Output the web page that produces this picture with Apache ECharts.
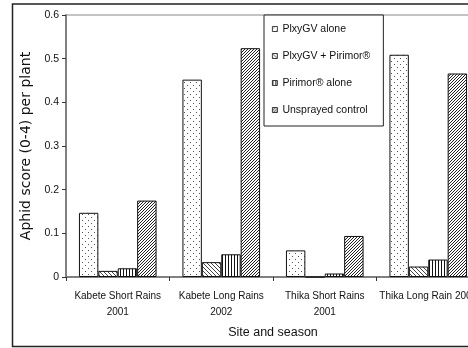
<!DOCTYPE html>
<html>
<head>
<meta charset="utf-8">
<script src="https://cdn.jsdelivr.net/npm/echarts@6/dist/echarts.min.js"></script>
<style>
html,body{margin:0;padding:0;background:#fff;}
#chart{width:468px;height:348px;}
</style>
</head>
<body>
<div id="chart"></div>
<script>
// ---- data ----
const categories = ['Kabete Short Rains\n2001', 'Kabete Long Rains\n2002', 'Thika Short Rains\n2001', 'Thika Long Rain 2002'];
const seriesNames = ['PlxyGV alone', 'PlxyGV + Pirimor®', 'Pirimor® alone', 'Unsprayed control'];
const plxygvAlone = [0.147, 0.452, 0.061, 0.509];
const plxygvPirimor = [0.014, 0.034, 0.000, 0.024];
const pirimorAlone = [0.020, 0.052, 0.008, 0.040];
const unsprayedControl = [0.175, 0.524, 0.094, 0.466];
const yMin = 0, yMax = 0.6, yStep = 0.1;

// ---- patterns ----
function makePattern(w, h, pixels, color) {
  const c = document.createElement('canvas');
  c.width = w; c.height = h;
  const ctx = c.getContext('2d');
  ctx.fillStyle = '#fff';
  ctx.fillRect(0, 0, w, h);
  ctx.fillStyle = color;
  pixels.forEach(p => ctx.fillRect(p[0], p[1], 1, 1));
  return { image: c, repeat: 'repeat' };
}
const dotPat = makePattern(6, 6, [[1,1],[4,4]], '#555');
const backHatch = makePattern(4, 4, [[0,0],[1,1],[2,2],[3,3]], '#444');
const vertPat = makePattern(3, 1, [[0,0]], '#111');
const fwdHatch = makePattern(3, 3, [[2,0],[1,1],[0,2]], '#222');
const patterns = [dotPat, backHatch, vertPat, fwdHatch];
const dataSets = [plxygvAlone, plxygvPirimor, pirimorAlone, unsprayedControl];

const font = 'Liberation Sans, Arial, sans-serif';
const chart = echarts.init(document.getElementById('chart'), null, { renderer: 'canvas' });

chart.setOption({
  animation: false,
  backgroundColor: '#fff',
  textStyle: { fontFamily: font },
  graphic: [{
    type: 'rect',
    z: 100,
    silent: true,
    shape: { x: 12.5, y: 4, width: 490, height: 342.5 },
    style: { fill: 'none', stroke: '#222', lineWidth: 1.5 }
  }],
  grid: {
    left: 66, top: 15, width: 414, bottom: 71,
    containLabel: false,
    outerBoundsMode: 'none',
    show: true, borderColor: '#888', borderWidth: 1, backgroundColor: 'transparent'
  },
  legend: {
    orient: 'vertical',
    left: 264, top: 15,
    padding: [7, 13, 9, 8],
    itemWidth: 5, itemHeight: 5,
    itemGap: 13,
    borderColor: '#222', borderWidth: 1,
    backgroundColor: '#fff',
    icon: 'rect',
    itemStyle: { borderColor: '#111', borderWidth: 0.8 },
    textStyle: { fontSize: 10.5, fontFamily: font, color: '#111', lineHeight: 14 },
    data: seriesNames
  },
  xAxis: {
    type: 'category',
    data: categories,
    name: 'Site and season',
    nameLocation: 'middle',
    nameGap: 49,
    nameTextStyle: { fontSize: 12.5, fontFamily: font, color: '#111' },
    axisLine: { lineStyle: { color: '#808080', width: 2 } },
    axisTick: { show: true, length: 4, lineStyle: { color: '#333' } },
    axisLabel: { interval: 0, fontSize: 10, lineHeight: 16, margin: 11, color: '#111', fontFamily: font, hideOverlap: false },
    nameMoveOverlap: false
  },
  yAxis: {
    type: 'value',
    min: yMin, max: yMax, interval: yStep,
    name: 'Aphid score (0-4) per plant',
    nameLocation: 'middle',
    nameGap: 27,
    nameTextStyle: { fontSize: 14, fontFamily: 'DejaVu Sans', color: '#111' },
    axisLine: { show: true, lineStyle: { color: '#808080', width: 2 } },
    axisTick: { show: true, length: 4, lineStyle: { color: '#333' } },
    axisLabel: { fontSize: 10.5, margin: 7, color: '#111', fontFamily: font },
    splitLine: { show: false }
  },
  series: seriesNames.map((name, i) => ({
    type: 'bar',
    name: name,
    data: dataSets[i],
    barGap: '0%',
    barCategoryGap: '25%',
    itemStyle: { color: patterns[i], borderColor: '#111', borderWidth: 1 }
  }))
});
</script>
</body>
</html>
